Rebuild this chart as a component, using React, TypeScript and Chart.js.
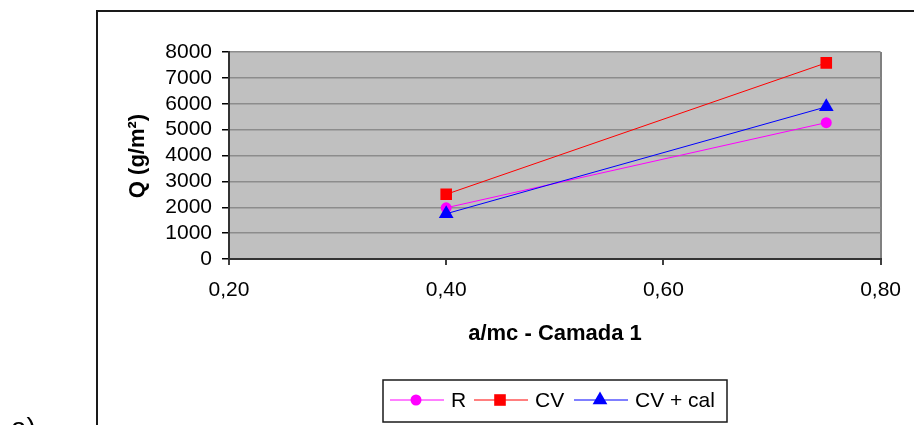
import React, { useEffect, useRef } from "react";
import { Chart, registerables } from "chart.js";

Chart.register(...registerables);

// ---- data ----
const X_VALUES = [0.4, 0.75];
const R_VALUES = [1980, 5270];
const CV_VALUES = [2500, 7580];
const CV_CAL_VALUES = [1750, 5880];
const SERIES_LABELS = ["R", "CV", "CV + cal"];
const X_TICKS = [0.2, 0.4, 0.6, 0.8];
const Y_TICKS = [0, 1000, 2000, 3000, 4000, 5000, 6000, 7000, 8000];
const X_TITLE = "a/mc - Camada 1";
const Y_TITLE = "Q (g/m²)";
const PANEL_LABEL = "a)";

const FONT = "'Liberation Sans', Arial, sans-serif";

function drawMarker(ctx: CanvasRenderingContext2D, style: string, x: number, y: number, r: number, color: string) {
  ctx.save();
  ctx.fillStyle = color;
  ctx.beginPath();
  if (style === "circle") {
    ctx.arc(x, y, r, 0, Math.PI * 2);
  } else if (style === "rect") {
    const s = Math.SQRT1_2 * r;
    ctx.rect(x - s, y - s, 2 * s, 2 * s);
  } else if (style === "triangle") {
    let rad = 0;
    ctx.moveTo(x + Math.sin(rad) * r, y - Math.cos(rad) * r);
    rad += (2 * Math.PI) / 3;
    ctx.lineTo(x + Math.sin(rad) * r, y - Math.cos(rad) * r);
    rad += (2 * Math.PI) / 3;
    ctx.lineTo(x + Math.sin(rad) * r, y - Math.cos(rad) * r);
    ctx.closePath();
  }
  ctx.fill();
  ctx.restore();
}

const framePlugin = {
  id: "frame",
  beforeDraw(chart: any) {
    const { ctx, chartArea: a } = chart;
    ctx.save();
    ctx.fillStyle = "#ffffff";
    ctx.fillRect(0, 0, chart.width, chart.height);
    ctx.fillStyle = "#C0C0C0";
    ctx.fillRect(a.left, a.top, a.right - a.left, a.bottom - a.top);
    ctx.strokeStyle = "#1a1a1a";
    ctx.lineWidth = 2;
    ctx.beginPath();
    ctx.moveTo(97, chart.height + 5);
    ctx.lineTo(97, 11);
    ctx.lineTo(chart.width + 5, 11);
    ctx.stroke();
    ctx.restore();
  },
  afterDraw(chart: any) {
    const { ctx } = chart;
    ctx.save();
    ctx.fillStyle = "#000";
    // y title
    ctx.font = `bold 22px ${FONT}`;
    ctx.textAlign = "center";
    ctx.textBaseline = "alphabetic";
    ctx.save();
    ctx.translate(144, 156);
    ctx.rotate(-Math.PI / 2);
    ctx.fillText(Y_TITLE, 0, 0);
    ctx.restore();
    // x title
    ctx.fillText(X_TITLE, 555, 340);
    // panel label
    ctx.font = `28px ${FONT}`;
    ctx.textAlign = "left";
    ctx.fillText(PANEL_LABEL, 11, 437);

    // legend
    ctx.strokeStyle = "#1a1a1a";
    ctx.lineWidth = 1.5;
    ctx.strokeRect(383, 380, 344, 42);
    const starts = [390, 474, 574];
    const ly = 400;
    chart.data.datasets.forEach((ds: any, i: number) => {
      const x0 = starts[i];
      ctx.strokeStyle = ds.borderColor;
      ctx.lineWidth = 1;
      ctx.beginPath();
      ctx.moveTo(x0, ly);
      ctx.lineTo(x0 + 54, ly);
      ctx.stroke();
      drawMarker(ctx, ds.pointStyle, x0 + 26, ly, ds.pointRadius, ds.pointBackgroundColor);
      ctx.fillStyle = "#000";
      ctx.font = `21px ${FONT}`;
      ctx.textAlign = "left";
      ctx.textBaseline = "alphabetic";
      ctx.fillText(ds.label, x0 + 61, 407);
    });
    ctx.restore();
  },
};

export default function App() {
  const ref = useRef<HTMLCanvasElement | null>(null);

  useEffect(() => {
    if (!ref.current) return;
    const mk = (vals: number[]) => X_VALUES.map((x, i) => ({ x, y: vals[i] }));
    const chart = new Chart(ref.current, {
      type: "line",
      data: {
        datasets: [
          {
            label: SERIES_LABELS[0],
            data: mk(R_VALUES),
            borderColor: "#FF00FF",
            backgroundColor: "#FF00FF",
            pointBackgroundColor: "#FF00FF",
            borderWidth: 1,
            pointStyle: "circle",
            pointRadius: 5.5,
            pointBorderWidth: 0,
            order: 3,
          },
          {
            label: SERIES_LABELS[1],
            data: mk(CV_VALUES),
            borderColor: "#FF0000",
            backgroundColor: "#FF0000",
            pointBackgroundColor: "#FF0000",
            borderWidth: 1,
            pointStyle: "rect",
            pointRadius: 8.2,
            pointBorderWidth: 0,
            order: 2,
          },
          {
            label: SERIES_LABELS[2],
            data: mk(CV_CAL_VALUES),
            borderColor: "#0000FF",
            backgroundColor: "#0000FF",
            pointBackgroundColor: "#0000FF",
            borderWidth: 1,
            pointStyle: "triangle",
            pointRadius: 8.5,
            pointBorderWidth: 0,
            order: 1,
          },
        ] as any,
      },
      options: {
        animation: false,
        responsive: false,
        devicePixelRatio: 1,
        layout: { padding: { left: 0, top: 52, right: 32, bottom: 0 } },
        plugins: { legend: { display: false }, tooltip: { enabled: false } },
        scales: {
          x: {
            type: "linear",
            min: X_TICKS[0],
            max: X_TICKS[X_TICKS.length - 1],
            afterBuildTicks: (s: any) => {
              s.ticks = X_TICKS.map((v) => ({ value: v }));
            },
            afterFit: (s: any) => {
              s.height = 166;
            },
            ticks: {
              font: { family: FONT, size: 21 },
              color: "#000",
              padding: 13,
              maxRotation: 0,
              autoSkip: false,
              callback: (v: any) => Number(v).toFixed(2).replace(".", ","),
            },
            grid: {
              color: (c: any) => (c.index === X_TICKS.length - 1 ? "#808080" : "rgba(0,0,0,0)"),
              lineWidth: 2,
              tickColor: "#000",
              tickLength: 6,
              tickWidth: 1.5,
            },
            border: { color: "#333", width: 2 },
          },
          y: {
            type: "linear",
            min: Y_TICKS[0],
            max: Y_TICKS[Y_TICKS.length - 1],
            afterBuildTicks: (s: any) => {
              s.ticks = Y_TICKS.map((v) => ({ value: v }));
            },
            afterFit: (s: any) => {
              s.width = 229;
            },
            ticks: {
              font: { family: FONT, size: 21 },
              color: "#000",
              padding: 10,
              autoSkip: false,
              callback: (v: any) => String(v),
            },
            grid: {
              color: "#8c8c8c",
              lineWidth: 1.5,
              tickColor: "#000",
              tickLength: 7,
              tickWidth: 1.5,
            },
            border: { color: "#333", width: 2 },
          },
        },
      } as any,
      plugins: [framePlugin],
    });
    return () => chart.destroy();
  }, []);

  return (
    <div style={{ position: "absolute", left: 0, top: 0, width: 914, height: 425, overflow: "hidden" }}>
      <canvas ref={ref} width={914} height={425} style={{ display: "block", width: 914, height: 425 }} />
    </div>
  );
}
